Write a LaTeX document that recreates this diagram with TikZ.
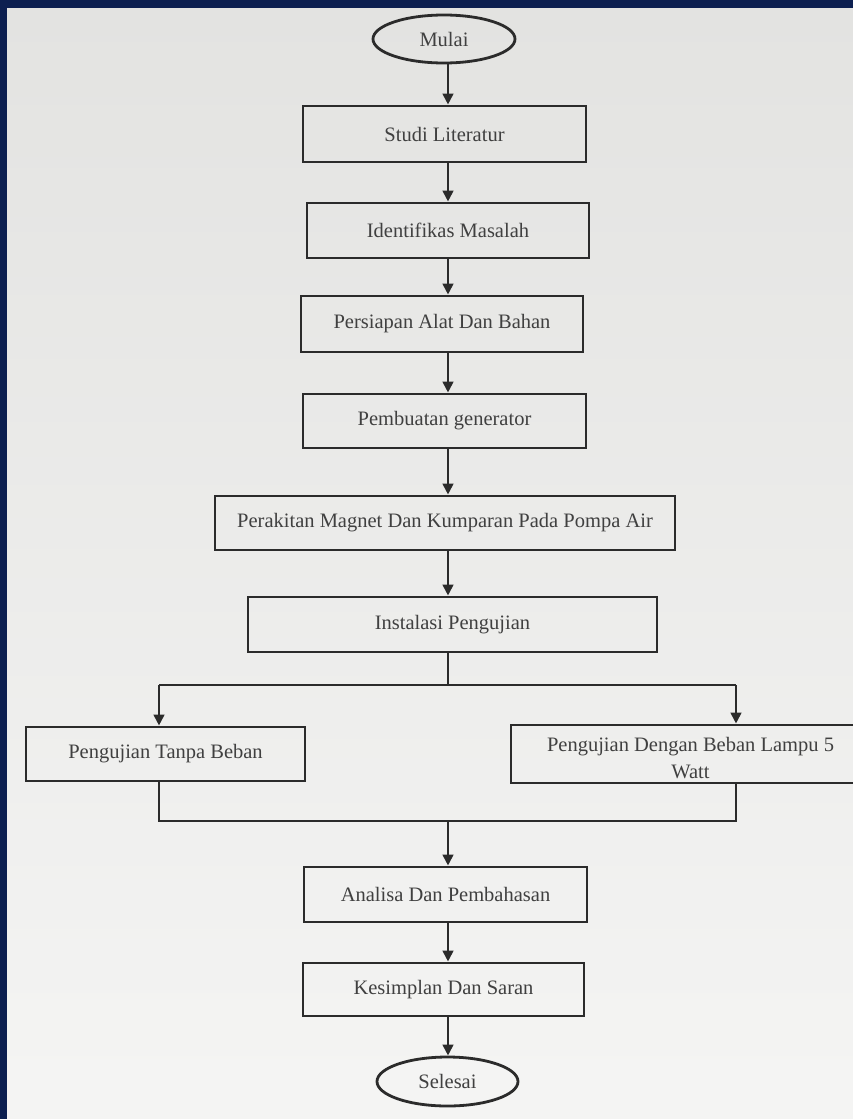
\documentclass[tikz,border=0pt]{standalone}
\usepackage{fontspec}
\setmainfont{Liberation Serif}
\usetikzlibrary{arrows.meta,shapes.geometric}
\definecolor{navy}{HTML}{0C1F50}
\definecolor{kertas}{HTML}{EAEAE8}
\definecolor{tinta}{HTML}{2B2B2B}

\begin{document}
\begin{tikzpicture}[x=1pt,y=-1pt,
  proses/.style={draw=tinta,line width=2.8pt,text=tinta!90,
    font=\fontsize{20.5}{29}\selectfont,inner sep=0pt,align=center},
  terminal/.style={proses,ellipse},
  garis/.style={draw=tinta,line width=2.8pt},
  panah/.style={garis,-{Triangle[length=11pt,width=10.5pt]}}]
% kertas dan tepi foto
\fill[navy] (0,0) rectangle (853,1119);
\shade[top color=kertas!97!black,bottom color=kertas!50!white] (7,8) rectangle (853,1119);
\useasboundingbox (0,0) rectangle (853,1119);
\begin{scope}
\clip (7,8) rectangle (853,1119);
% alur utama
\node[terminal,minimum width=142,minimum height=48] (mulai) at (444,39) {Mulai};
\node[proses,minimum width=283,minimum height=56] (studi) at (444.5,134) {Studi Literatur};
\node[proses,minimum width=282,minimum height=55] (identif) at (448,230.5) {Identifikas Masalah};
\node[proses,minimum width=282,minimum height=56] (persiapan) at (442,324) {Persiapan Alat Dan Bahan};
\node[proses,minimum width=283,minimum height=54] (pembuatan) at (444.5,421) {Pembuatan generator};
\node[proses,minimum width=460,minimum height=54] (perakitan) at (445,523) {Perakitan Magnet Dan Kumparan Pada Pompa Air};
\node[proses,minimum width=409,minimum height=55] (instalasi) at (452.5,624.5) {Instalasi Pengujian};
% dua pengujian
\node[proses,minimum width=279,minimum height=54] (tanpa) at (165.5,754) {Pengujian Tanpa Beban};
\node[proses,minimum width=359,minimum height=58,text height=49pt,text depth=0pt,
  font=\fontsize{20.5}{27}\selectfont] (dengan) at (690.5,754) {Pengujian Dengan Beban Lampu 5\\Watt};
% penutup
\node[proses,minimum width=283,minimum height=55] (analisa) at (445.5,894.5) {Analisa Dan Pembahasan};
\node[proses,minimum width=281,minimum height=53] (kesimpulan) at (443.5,989.5) {Kesimplan Dan Saran};
\node[terminal,minimum width=141,minimum height=49] (selesai) at (447.5,1081.5) {Selesai};

\coordinate (sumbu) at (448,0);
\foreach \a/\b in {mulai/studi,studi/identif,identif/persiapan,persiapan/pembuatan,
  pembuatan/perakitan,perakitan/instalasi,analisa/kesimpulan,kesimpulan/selesai}
  \draw[panah] (sumbu |- \a.south) -- (sumbu |- \b.north);

% percabangan
\coordinate (cabang) at (448,685);
\coordinate (kiri) at (159,685);
\coordinate (kanan) at (736,685);
\draw[garis] (sumbu |- instalasi.south) -- (cabang);
\draw[garis] (kiri) -- (kanan);
\draw[panah] (kiri) -- (kiri |- tanpa.north);
\draw[panah] (kanan) -- (kanan |- dengan.north);

% penggabungan
\coordinate (gabung) at (448,821);
\draw[garis] (kiri |- tanpa.south) |- (gabung) -| (kanan |- dengan.south);
\draw[panah] (gabung) -- (sumbu |- analisa.north);
\end{scope}
\end{tikzpicture}
\end{document}
